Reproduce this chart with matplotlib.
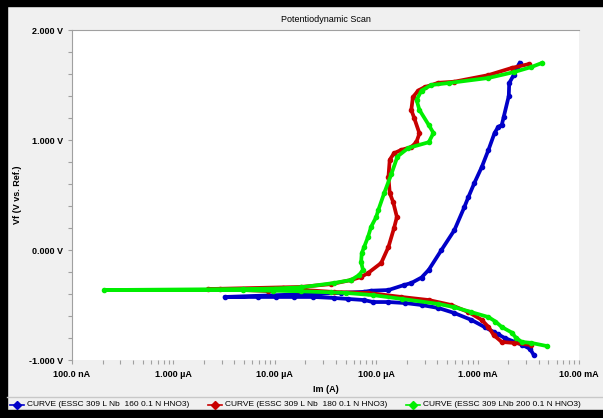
import matplotlib
matplotlib.use("Agg")
from matplotlib import pyplot as plt
from matplotlib.lines import Line2D
from matplotlib.patches import Rectangle
from matplotlib.ticker import FixedLocator, NullFormatter
import numpy as np

plt.rcParams["font.family"] = ["Liberation Sans", "DejaVu Sans"]

# ESSC 309 L Nb 160 (blue)
i160 = [3.58e-3, 3.3e-3, 2.73e-3, 1.85e-3, 1.6e-3, 1.44e-3, 1.17e-3, 8.7e-4, 5.9e-4,
        4.1e-4, 2.8e-4, 1.92e-4, 1.32e-4, 9.3e-5, 7.6e-5, 5.3e-5, 3.84e-5, 2.4e-5,
        1.55e-5, 1.03e-5, 6.8e-6, 3.2e-6,
        4.5e-5, 7.6e-5, 8.9e-5, 1.32e-4, 1.89e-4, 2.22e-4, 2.8e-4, 3.3e-4, 4.4e-4,
        5.9e-4, 7.4e-4, 8.1e-4, 9.3e-4, 1.1e-3, 1.28e-3, 1.47e-3, 1.6e-3, 1.73e-3,
        1.81e-3, 2.03e-3, 2.05e-3, 2.27e-3, 2.43e-3, 2.6e-3]
v160 = [-0.955, -0.90, -0.86, -0.80, -0.767, -0.745, -0.70, -0.636, -0.573,
        -0.527, -0.50, -0.482, -0.473, -0.473, -0.455, -0.445, -0.436, -0.427,
        -0.427, -0.427, -0.427, -0.427,
        -0.39, -0.38, -0.37, -0.364, -0.318, -0.30, -0.25, -0.18, 0.0,
        0.18, 0.39, 0.48, 0.61, 0.755, 0.91, 1.064, 1.12, 1.136,
        1.21, 1.40, 1.518, 1.59, 1.655, 1.70]

# ESSC 309 L Nb 180 (red)
i180 = [3.4e-3, 2.3e-3, 1.73e-3, 1.44e-3, 1.28e-3, 1.1e-3, 8.1e-4, 5.5e-4, 3.3e-4,
        1.77e-4, 8.3e-5, 3.84e-5, 1.7e-5, 1.2e-5, 8.5e-6, 2.9e-6, 2.2e-6,
        1.8e-5, 3.6e-5, 5.65e-5, 7.1e-5, 8.3e-5, 1.12e-4, 1.32e-4, 1.5e-4, 1.6e-4,
        1.47e-4, 1.36e-4, 1.32e-4, 1.36e-4, 1.5e-4, 1.77e-4, 2.22e-4, 2.49e-4,
        2.67e-4, 2.37e-4, 2.22e-4, 2.3e-4, 2.6e-4, 3.0e-4, 4.1e-4, 5.9e-4,
        1.28e-3, 2.17e-3, 3.2e-3]
v180 = [-0.864, -0.845, -0.836, -0.773, -0.70, -0.636, -0.564, -0.50, -0.455,
        -0.427, -0.39, -0.382, -0.36, -0.345, -0.373, -0.355, -0.355,
        -0.336, -0.31, -0.273, -0.245, -0.21, -0.118, 0.027, 0.20, 0.30,
        0.436, 0.518, 0.664, 0.82, 0.88, 0.91, 0.936, 0.98,
        1.06, 1.20, 1.273, 1.39, 1.45, 1.48, 1.52, 1.53,
        1.59, 1.655, 1.69]

# ESSC 309 LNb 200 (green)
i200 = [4.8e-3, 3.4e-3, 2.73e-3, 2.4e-3, 2.17e-3, 1.73e-3, 1.5e-3, 1.28e-3, 8.7e-4,
        5.9e-4, 4.1e-4, 1.8e-4, 9.3e-5, 5.0e-5, 3.6e-5, 1.8e-5, 9.5e-6, 4.9e-6,
        2.07e-7,
        4.9e-6, 1.0e-5, 1.8e-5, 3.84e-5, 5.65e-5, 6.8e-5, 7.4e-5, 7.1e-5, 7.2e-5,
        7.6e-5, 8.3e-5, 8.9e-5, 1.0e-4, 1.05e-4, 1.2e-4, 1.41e-4, 1.62e-4, 2.07e-4,
        3.3e-4, 3.67e-4, 3.3e-4, 2.67e-4, 2.5e-4, 2.8e-4, 3.5e-4, 5.2e-4, 1.28e-3,
        2.3e-3, 3.4e-3, 4.3e-3]
v200 = [-0.873, -0.845, -0.836, -0.80, -0.75, -0.70, -0.65, -0.61, -0.565,
        -0.52, -0.49, -0.445, -0.41, -0.39, -0.385, -0.375, -0.37, -0.365,
        -0.364,
        -0.355, -0.35, -0.34, -0.30, -0.273, -0.227, -0.18, -0.11, -0.03,
        0.027, 0.118, 0.21, 0.30, 0.364, 0.518, 0.69, 0.85, 0.927,
        0.98, 1.064, 1.136, 1.273, 1.364, 1.45, 1.50, 1.518, 1.564,
        1.618, 1.664, 1.70]

labels = ["CURVE (ESSC 309 L Nb  160 0.1 N HNO3)",
          "CURVE (ESSC 309 L Nb  180 0.1 N HNO3)",
          "CURVE (ESSC 309 LNb 200 0.1 N HNO3)"]
colors = ["#0000c8", "#c80000", "#00ee00"]

x_ticks = [1e-7, 1e-6, 1e-5, 1e-4, 1e-3, 1e-2]
x_ticklabels = ["100.0 nA", "1.000 \u00b5A", "10.00 \u00b5A", "100.0 \u00b5A", "1.000 mA", "10.00 mA"]
y_ticks = [-1, 0, 1, 2]

bg = "#f0f0f0"
fig = plt.figure(figsize=(6.03, 4.18), dpi=100, facecolor=bg)
ax = fig.add_axes([72 / 603, 1 - 360 / 418, 507 / 603, 330 / 418])
ax.set_facecolor("white")

for i, v, c in [(i160, v160, colors[0]), (i180, v180, colors[1]), (i200, v200, colors[2])]:
    ax.plot(i, v, color=c, lw=2.7, marker="o", ms=3, solid_joinstyle="round")

ax.set_xscale("log")
ax.set_xlim(1e-7, 1e-2)
ax.set_ylim(-1, 2)
ax.xaxis.set_major_locator(FixedLocator(x_ticks))
ax.set_xticklabels(x_ticklabels, fontweight="bold", fontsize=6.5)
ax.xaxis.set_minor_locator(FixedLocator([m * d for d in x_ticks[:-1] for m in range(2, 10)]))
ax.xaxis.set_minor_formatter(NullFormatter())
ax.yaxis.set_major_locator(FixedLocator(y_ticks))
ax.set_yticklabels(["%.3f V" % t for t in y_ticks], fontweight="bold", fontsize=6.5)
ax.yaxis.set_minor_locator(FixedLocator(np.arange(-1, 2.01, 0.2)))
ax.tick_params(which="both", colors="#a0a0a0", labelcolor="black", length=3, width=0.8)
ax.tick_params(axis="x", pad=4)

for s in ["right", "bottom"]:
    ax.spines[s].set_visible(False)
for s in ["top", "left"]:
    ax.spines[s].set_color("#a0a0a0")

ax.set_title("Potentiodynamic Scan", fontsize=6.5, pad=6)
ax.set_xlabel("Im (A)", fontweight="bold", fontsize=6.5)
ax.xaxis.set_label_coords(0.5, -25 / 330)
ax.set_ylabel("Vf (V vs. Ref.)", fontweight="bold", fontsize=6.5)
ax.yaxis.set_label_coords(-50 / 507, 0.5)

# frame and legend bar
fig.add_artist(Line2D([7 / 603, 1], [1 - 397 / 418] * 2, color="#c8c8c8", lw=1))
fig.add_artist(Rectangle((0, 1 - 6 / 418), 1, 6 / 418, color="black"))
fig.add_artist(Rectangle((0, 0), 7 / 603, 1, color="black"))
fig.add_artist(Rectangle((0, 0), 1, 8 / 418, color="black"))

leg_x = [17, 215, 413]
for lx, lab, c in zip(leg_x, labels, colors):
    y = 1 - 405 / 418
    fig.add_artist(Line2D([(lx - 7) / 603, (lx + 7) / 603], [y, y], color=c, lw=1.2))
    fig.add_artist(Line2D([lx / 603], [y], color=c, marker="D", ms=4))
    fig.text((lx + 10) / 603, y, lab, fontsize=6, va="center", ha="left")

fig.savefig("out.png", dpi=100, facecolor=bg)
